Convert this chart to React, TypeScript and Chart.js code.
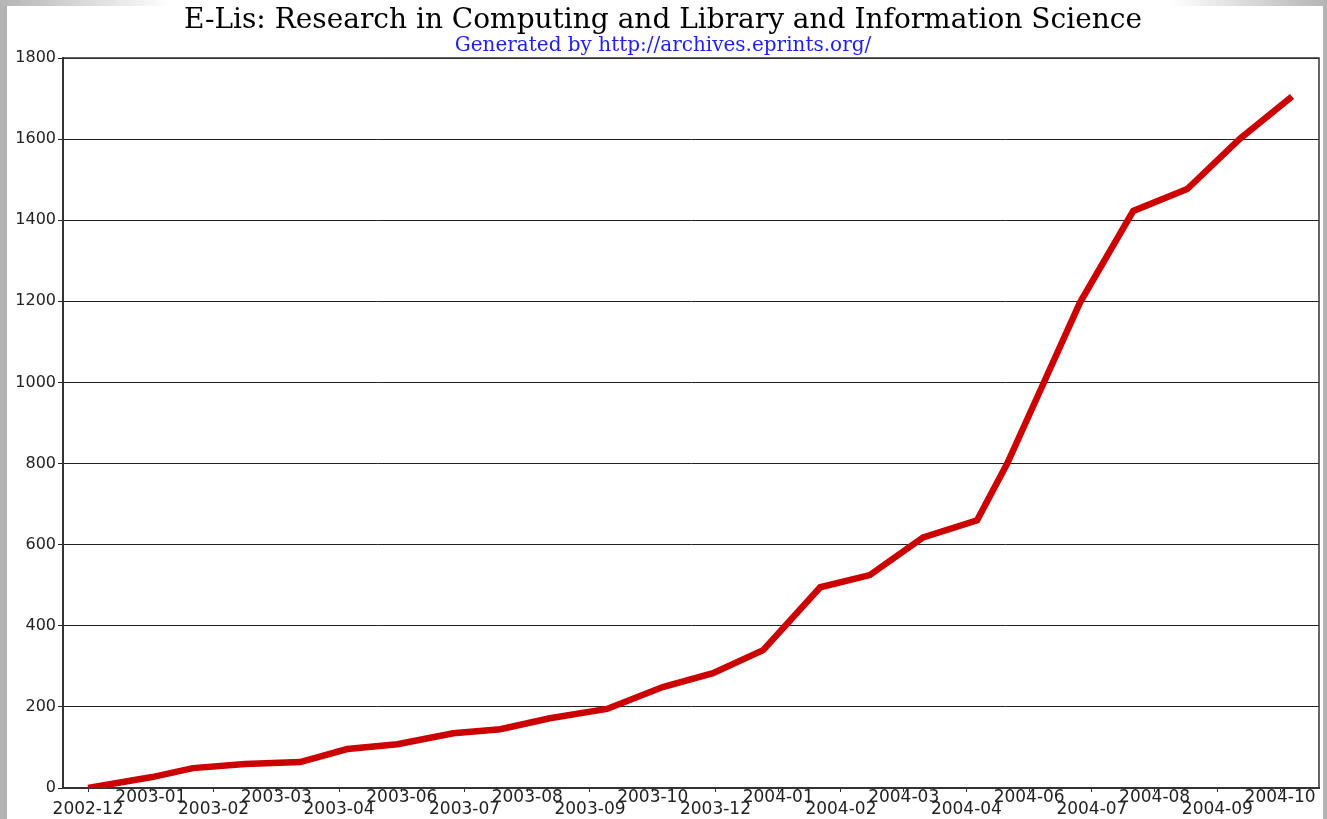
import React, { useEffect, useRef } from 'react';
import { Chart, registerables } from 'chart.js';

Chart.register(...registerables);

// Tick labels along the time axis (one per tick, evenly spaced)
const tickLabels = [
  '2002-12', '2003-01', '2003-02', '2003-03', '2003-04', '2003-06', '2003-07',
  '2003-08', '2003-09', '2003-10', '2003-12', '2004-01', '2004-02', '2004-03',
  '2004-04', '2004-06', '2004-07', '2004-08', '2004-09', '2004-10',
];

// Position of each reading, in tick units (0 = 2002-12 tick)
const xPositions = [
  0, 1.02, 1.67, 2.5, 3.38, 4.13, 4.93, 5.82, 6.57, 7.36, 8.27, 9.16, 9.96,
  10.76, 11.67, 12.46, 13.31, 14.17, 14.65, 15.22, 15.81, 16.66, 17.52, 18.36, 19.19,
];

// Cumulative number of records
const deposits = [
  0, 27, 49, 59, 64, 96, 108, 135, 145, 172, 195, 249, 283,
  340, 495, 525, 618, 660, 800, 995, 1197, 1423, 1477, 1601, 1705,
];

const yTicks = [0, 200, 400, 600, 800, 1000, 1200, 1400, 1600, 1800];

const TITLE = 'E-Lis: Research in Computing and Library and Information Science';
const SUBTITLE = 'Generated by http://archives.eprints.org/';

const GRAY = '#b4b4b4';

export default function App() {
  const ref = useRef<HTMLCanvasElement>(null);

  useEffect(() => {
    const frame = {
      id: 'frame',
      beforeDatasetsDraw(chart: any) {
        const { ctx, chartArea: a } = chart;
        ctx.save();
        ctx.strokeStyle = '#333';
        ctx.lineWidth = 1.5;
        ctx.beginPath();
        ctx.moveTo(a.left, a.top);
        ctx.lineTo(a.right, a.top);
        ctx.lineTo(a.right, a.bottom);
        ctx.stroke();
        ctx.restore();
      },
    };

    const chart = new Chart(ref.current as HTMLCanvasElement, {
      type: 'line',
      data: {
        datasets: [
          {
            data: xPositions.map((x, i) => ({ x, y: deposits[i] })),
            borderColor: '#cc0000',
            borderWidth: 6.5,
            pointRadius: 0,
            tension: 0,
            fill: false,
          },
        ],
      },
      options: {
        responsive: false,
        animation: false,
        devicePixelRatio: 1,
        layout: { padding: { left: 0, right: 4, top: 1, bottom: 0 } },
        plugins: {
          legend: { display: false },
          tooltip: { enabled: false },
          title: {
            display: true,
            text: TITLE,
            color: '#000',
            font: { family: 'DejaVu Serif', size: 28, weight: 'normal', lineHeight: 1.0 },
            padding: { top: 0, bottom: 1 },
          },
          subtitle: {
            display: true,
            text: SUBTITLE,
            color: '#1f1fe6',
            font: { family: 'DejaVu Serif', size: 20, weight: 'normal', lineHeight: 1.0 },
            padding: { top: 0, bottom: 2 },
          },
        },
        scales: {
          x: {
            type: 'linear',
            min: -0.4,
            max: 19.62,
            afterBuildTicks: (scale: any) => {
              scale.ticks = tickLabels.map((_, i) => ({ value: i }));
            },
            afterFit: (scale: any) => {
              scale.height = 31;
            },
            grid: {
              drawOnChartArea: false,
              drawTicks: true,
              tickLength: 4,
              color: '#333',
              lineWidth: 1,
            },
            border: { display: true, color: '#333', width: 2 },
            ticks: {
              autoSkip: false,
              maxRotation: 0,
              minRotation: 0,
              padding: 0,
              color: '#222',
              font: { family: 'DejaVu Sans', size: 17, lineHeight: 0.7 },
              callback: (value: any, index: number) => {
                const label = tickLabels[index] ?? '';
                return index % 2 === 0 ? ['', label] : [label];
              },
            },
          },
          y: {
            type: 'linear',
            min: 0,
            max: 1800,
            afterBuildTicks: (scale: any) => {
              scale.ticks = yTicks.map((v) => ({ value: v }));
            },
            afterFit: (scale: any) => {
              scale.width = 56;
            },
            grid: {
              color: '#222',
              lineWidth: 1,
              drawTicks: true,
              tickLength: 5,
            },
            border: { display: true, color: '#333', width: 2 },
            ticks: {
              padding: 2,
              color: '#222',
              font: { family: 'DejaVu Sans', size: 16 },
              callback: (value: any) => String(value),
            },
          },
        },
      },
      plugins: [frame],
    } as any);

    return () => chart.destroy();
  }, []);

  return (
    <div
      style={{
        position: 'fixed',
        left: 0,
        top: 0,
        width: 1327,
        height: 819,
        background: '#fff',
        overflow: 'hidden',
      }}
    >
      <div style={{ position: 'absolute', left: 0, top: 0, width: 7, height: 819, background: GRAY }} />
      <div style={{ position: 'absolute', left: 1323, top: 0, width: 4, height: 819, background: GRAY }} />
      <div
        style={{
          position: 'absolute',
          left: 0,
          top: 0,
          width: 1327,
          height: 6,
          background: `linear-gradient(to right, ${GRAY} 0px, #fff 170px, #fff 1170px, ${GRAY} 1327px)`,
        }}
      />
      <canvas
        ref={ref}
        width={1316}
        height={813}
        style={{ position: 'absolute', left: 7, top: 6, width: 1316, height: 813, background: '#fff' }}
      />
    </div>
  );
}
